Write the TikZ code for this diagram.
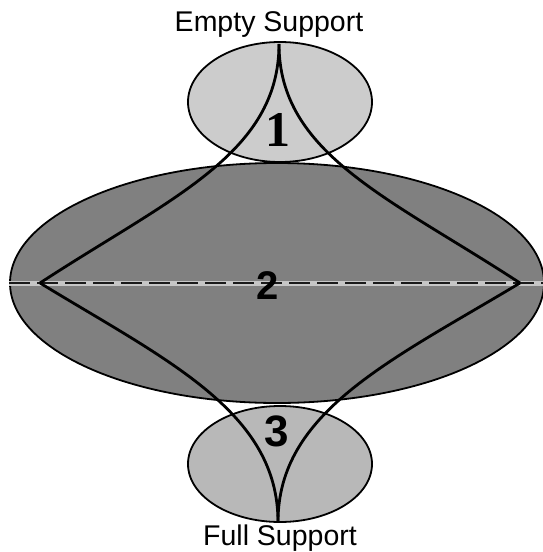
\documentclass[tikz,border=0pt]{standalone}
\usepackage{fontspec}
\setmainfont{Liberation Sans}
\newfontfamily\serifnum{Liberation Serif}
\usetikzlibrary{shapes.geometric}
\definecolor{lightfill}{gray}{0.80}
\definecolor{midfill}{gray}{0.72}
\definecolor{darkfill}{gray}{0.50}
\tikzset{
  region/.style={ellipse, draw=black, line width=1.8pt, inner sep=0pt},
  cuspline/.style={draw=black, line width=2.8pt},
  caption/.style={font=\fontsize{28.5}{30}\selectfont, inner sep=0pt},
  numlabel/.style={font=\bfseries, inner sep=0pt}
}
\begin{document}
\begin{tikzpicture}[x=1pt,y=-1pt]
\useasboundingbox (0,0) rectangle (543,552);
% ellipses
\node[region, fill=lightfill, minimum width=184pt, minimum height=120pt] (top) at (280,102) {};
\node[region, fill=midfill, minimum width=184pt, minimum height=116pt] (bot) at (280,464) {};
\node[region, fill=darkfill, minimum width=534pt, minimum height=240pt] (big) at (277,283) {};
% cusps
\coordinate (T) at (279,44);
\coordinate (L) at (40,283);
\coordinate (R) at (520,283);
\coordinate (B) at (278,522);
% dashed axis
\draw[gray!45, line width=5pt] (big.west) -- (big.east);
\draw[black!90, line width=2.6pt, dash pattern=on 21pt off 7pt] (big.west) -- (big.east);
% astroid-like curves
\draw[cuspline] (T) .. controls (279,154) and (170,198) .. (L);
\draw[cuspline] (T) .. controls (279,154) and (390,198) .. (R);
\draw[cuspline] (B) .. controls (278,412) and (168,361) .. (L);
\draw[cuspline] (B) .. controls (278,412) and (390,361) .. (R);
% labels
\node[caption] (empty) at (269,25) {Empty Support};
\node[caption] (full) at (280,538) {Full Support};
\node[numlabel, font=\serifnum\bfseries\fontsize{50}{52}\selectfont] (n1) at (278,130) {1};
\node[numlabel, font=\bfseries\fontsize{40}{42}\selectfont] (n2) at (268,286) {2};
\node[numlabel, font=\bfseries\fontsize{44}{46}\selectfont] (n3) at (277,431) {3};
\end{tikzpicture}
\end{document}
